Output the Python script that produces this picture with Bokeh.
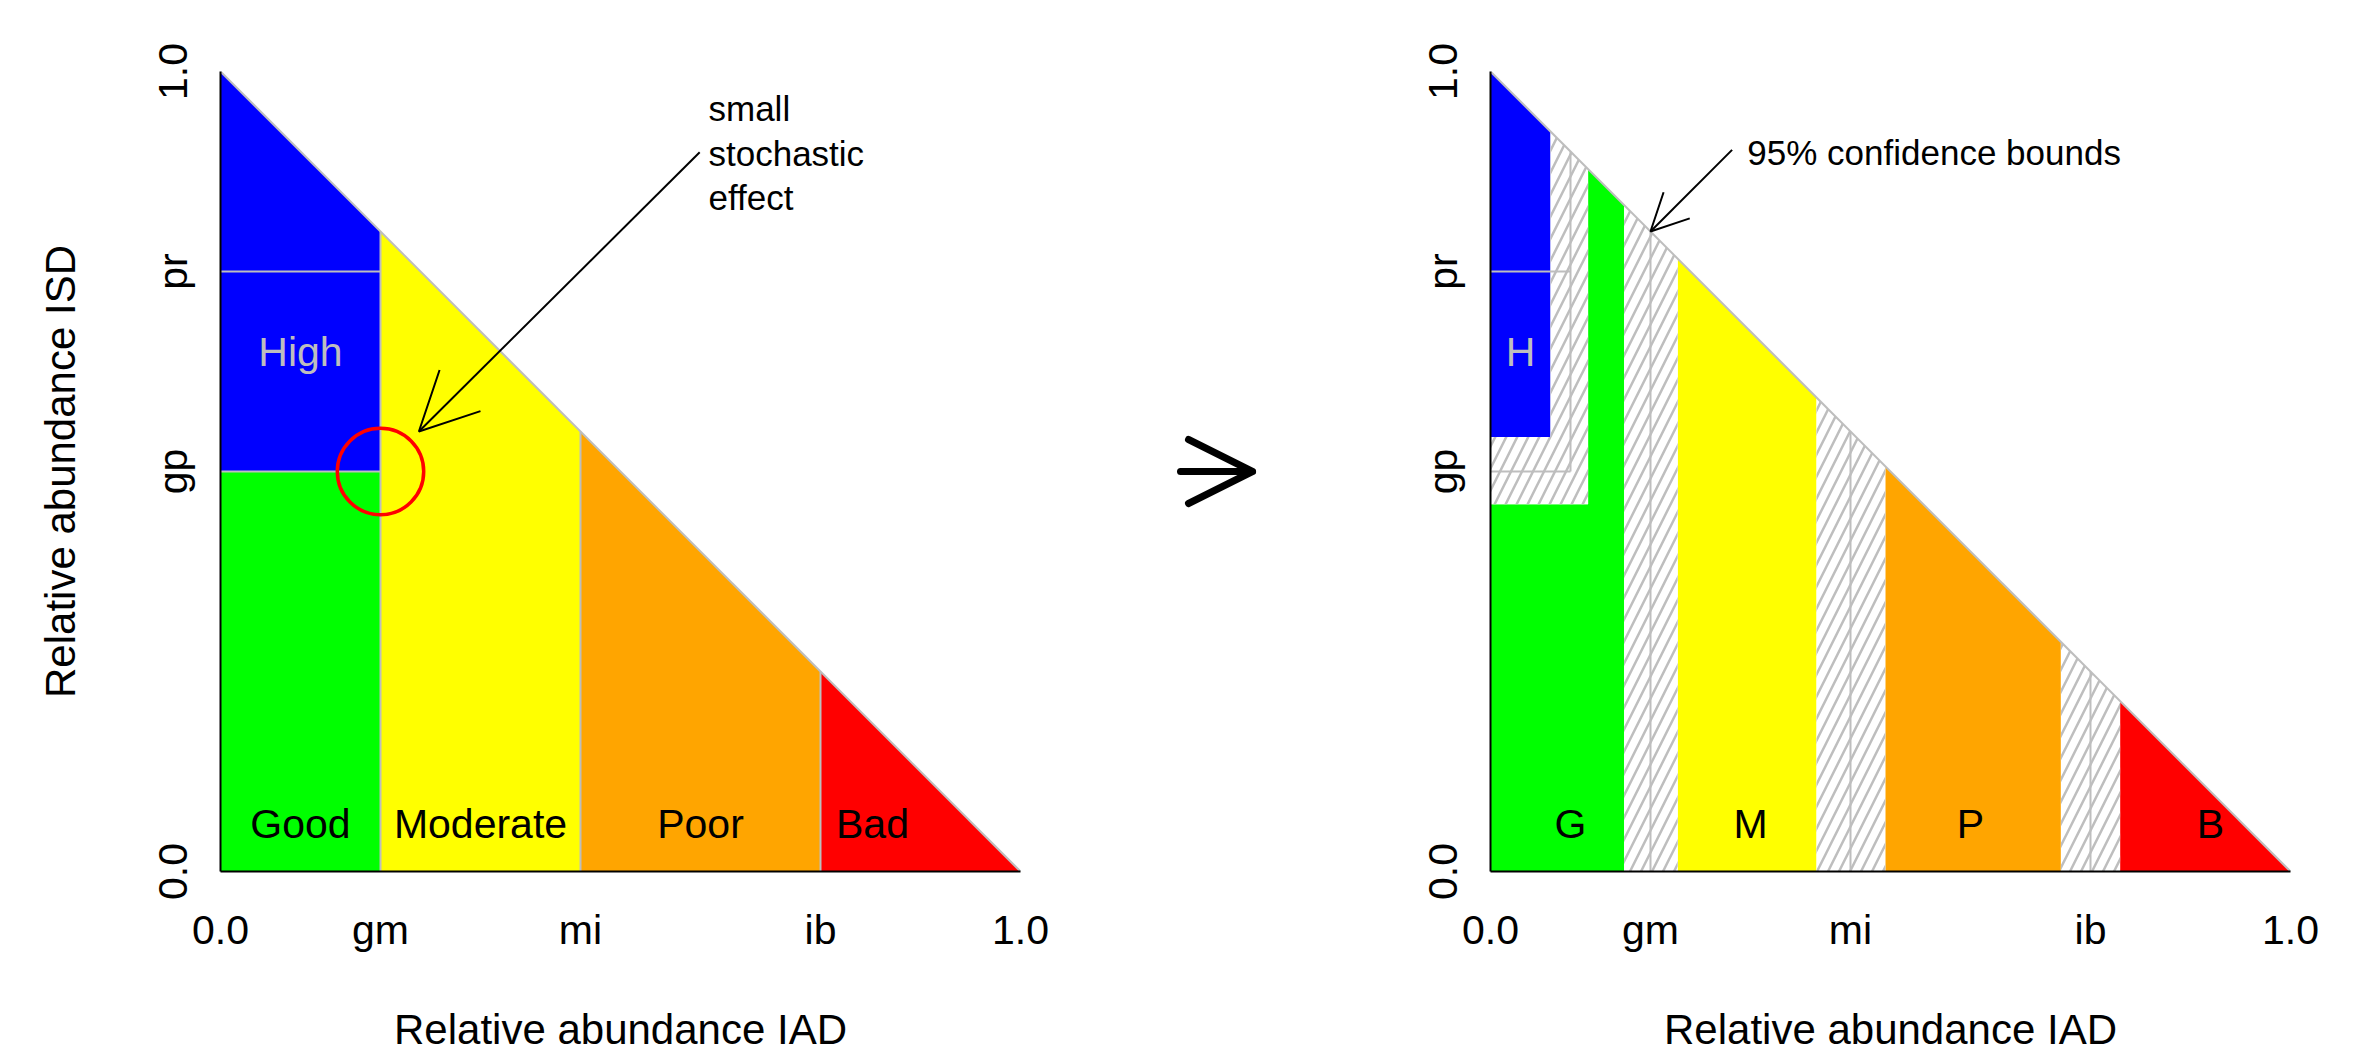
import math
from bokeh.plotting import figure
from bokeh.models import Range1d, FixedTicker, Arrow, OpenHead
from bokeh.layouts import row
from bokeh.embed import file_html
from bokeh.resources import INLINE
from bokeh.core.properties import value

FONT = "Liberation Sans"

# ---- class boundaries (relative abundance) ----
gm, mi, ib = 0.2, 0.45, 0.75     # IAD boundaries good/moderate, moderate/poor, poor/bad
gp, pr = 0.5, 0.75               # ISD boundaries good/high, reference line
x_ticks = [0.0, gm, mi, ib, 1.0]
x_tick_labels = ["0.0", "gm", "mi", "ib", "1.0"]
y_ticks = [0.0, gp, pr, 1.0]
y_tick_labels = ["0.0", "gp", "pr", "1.0"]

COL = {"H": "#0000FF", "G": "#00FF00", "M": "#FFFF00", "P": "#FFA500", "B": "#FF0000"}
GREY = "#BEBEBE"

# left panel class labels
left_labels = ["High", "Good", "Moderate", "Poor", "Bad"]
left_label_x = [0.1, 0.1, 0.325, 0.6, 0.815]
left_label_y = [0.65, 0.06, 0.06, 0.06, 0.06]
left_label_col = [GREY, "black", "black", "black", "black"]

# right panel: high boundary in IAD and 95% confidence bounds
hx = 0.1
hx_lo, hx_hi = 0.075, 0.122
gp_lo, gp_hi = 0.459, 0.543
gm_lo, gm_hi = 0.167, 0.234
mi_lo, mi_hi = 0.4075, 0.4935
ib_lo, ib_hi = 0.713, 0.787
right_labels = ["H", "G", "M", "P", "B"]
right_label_x = [0.0375, 0.1, 0.325, 0.6, 0.9]
right_label_y = [0.65, 0.06, 0.06, 0.06, 0.06]
right_label_col = [GREY, "black", "black", "black", "black"]

# annotations
note_left = "small\nstochastic\neffect"
note_left_xy = (0.61, 0.898)
arrow_left = (0.599, 0.899, 0.248, 0.55)
note_right = "95% confidence bounds"
note_right_xy = (0.321, 0.899)
arrow_right = (0.302, 0.902, 0.2, 0.8)
mid_arrow = (0.40, 0.5, 0.76, 0.5)
circle_r = 0.054


def diag(x):
    return 1.0 - x


def band(x0, x1):
    return [x0, x1, x1, x0], [0, 0, diag(x1), diag(x0)]


def make_panel(bl, br, ylabel):
    p = figure(frame_width=800, frame_height=800,
               x_range=Range1d(0, 1), y_range=Range1d(0, 1),
               min_border_left=bl, min_border_right=br,
               min_border_top=71, min_border_bottom=175,
               output_backend="svg", toolbar_location=None,
               background_fill_color="white", border_fill_color="white",
               outline_line_color=None)
    p.grid.visible = False
    for ax, ticks, labs in ((p.xaxis, x_ticks, x_tick_labels), (p.yaxis, y_ticks, y_tick_labels)):
        ax.ticker = FixedTicker(ticks=ticks)
        ax.major_label_overrides = {t: l for t, l in zip(ticks, labs)}
        ax.major_tick_in = 0
        ax.major_tick_out = 0
        ax.minor_tick_in = 0
        ax.minor_tick_out = 0
        ax.axis_line_color = "black"
        ax.axis_line_width = 2
        ax.major_label_text_font = FONT
        ax.major_label_text_font_size = "41px"
        ax.major_label_text_color = "black"
        ax.axis_label_text_font = FONT
        ax.axis_label_text_font_size = "42px"
        ax.axis_label_text_font_style = "normal"
        ax.axis_label_text_color = "black"
    p.xaxis.major_label_standoff = 35
    p.xaxis.axis_label = "Relative abundance IAD"
    p.xaxis.axis_label_standoff = 50
    p.yaxis.major_label_orientation = "vertical"
    p.yaxis.major_label_standoff = 25
    if ylabel:
        p.yaxis.axis_label = ylabel
        p.yaxis.axis_label_standoff = 63
    return p


# ---------------- left panel ----------------
pl = make_panel(220, 80, "Relative abundance ISD")
lxs = [[0, gm, gm, 0], [0, gm, gm, 0]]
lys = [[gp, gp, diag(gm), 1], [0, 0, gp, gp]]
for a, b in ((gm, mi), (mi, ib), (ib, 1.0)):
    bx, by = band(a, b)
    lxs.append(bx)
    lys.append(by)
pl.patches(lxs, lys, fill_color=[COL["H"], COL["G"], COL["M"], COL["P"], COL["B"]], line_color=None)
# grey class boundary lines
pl.multi_line([[gm, gm], [mi, mi], [ib, ib], [0, gm], [0, gm], [0, 1]],
              [[0, diag(gm)], [0, diag(mi)], [0, diag(ib)], [gp, gp], [pr, pr], [1, 0]],
              line_color=GREY, line_width=2)
pl.circle(x=[gm], y=[gp], radius=circle_r, fill_color=None, line_color="#FF0000", line_width=3.5)
pl.text(x=left_label_x, y=left_label_y, text=left_labels, text_color=left_label_col,
        text_font=value(FONT), text_font_size="41px", text_align="center", text_baseline="middle")
pl.text(x=[note_left_xy[0]], y=[note_left_xy[1]], text=[note_left], text_font=value(FONT),
        text_font_size="35px", text_align="left", text_baseline="middle", text_line_height=1.15)
pl.add_layout(Arrow(end=OpenHead(size=58, line_width=2, line_color="black"),
                    x_start=arrow_left[0], y_start=arrow_left[1],
                    x_end=arrow_left[2], y_end=arrow_left[3], line_width=2, line_color="black"))

# ---------------- middle arrow ----------------
pm = figure(frame_width=200, frame_height=800, x_range=Range1d(0, 1), y_range=Range1d(0, 1),
            min_border_left=0, min_border_right=0, min_border_top=71, min_border_bottom=175,
            output_backend="svg", toolbar_location=None, x_axis_location=None, y_axis_location=None,
            outline_line_color=None, background_fill_color="white", border_fill_color="white")
pm.grid.visible = False
pm.add_layout(Arrow(end=OpenHead(size=64, line_width=7, line_color="black", line_cap="round", line_join="round"),
                    x_start=mid_arrow[0], y_start=mid_arrow[1], x_end=mid_arrow[2], y_end=mid_arrow[3],
                    line_width=7, line_color="black", line_cap="round"))

# ---------------- right panel ----------------
pr_ = make_panel(190, 64, None)
rxs, rys, rcol = [], [], []
# High
rxs.append([0, hx_lo, hx_lo, 0]); rys.append([gp_hi, gp_hi, diag(hx_lo), 1]); rcol.append(COL["H"])
# Good
rxs.append([0, gm_lo, gm_lo, hx_hi, hx_hi, 0]); rys.append([0, 0, diag(gm_lo), diag(hx_hi), gp_lo, gp_lo]); rcol.append(COL["G"])
for (a, b), c in (((gm_hi, mi_lo), "M"), ((mi_hi, ib_lo), "P"), ((ib_hi, 1.0), "B")):
    bx, by = band(a, b)
    rxs.append(bx); rys.append(by); rcol.append(COL[c])
pr_.patches(rxs, rys, fill_color=rcol, line_color=None)
# uncertainty (hatched) zones
hxs = [[0, hx_hi, hx_hi, hx_lo, hx_lo, 0]]
hys = [[gp_lo, gp_lo, diag(hx_hi), diag(hx_lo), gp_hi, gp_hi]]
for a, b in ((gm_lo, gm_hi), (mi_lo, mi_hi), (ib_lo, ib_hi)):
    bx, by = band(a, b)
    hxs.append(bx); hys.append(by)
pr_.patches(hxs, hys, fill_color="white", line_color=None, hatch_pattern="/",
            hatch_color=GREY, hatch_weight=2.5, hatch_scale=22)
pr_.multi_line([[gm, gm], [mi, mi], [ib, ib], [hx, hx], [0, hx], [0, hx], [0, 1]],
               [[0, diag(gm)], [0, diag(mi)], [0, diag(ib)], [gp, diag(hx)], [gp, gp], [pr, pr], [1, 0]],
               line_color=GREY, line_width=2)
pr_.text(x=right_label_x, y=right_label_y, text=right_labels, text_color=right_label_col,
         text_font=value(FONT), text_font_size="41px", text_align="center", text_baseline="middle")
pr_.text(x=[note_right_xy[0]], y=[note_right_xy[1]], text=[note_right], text_font=value(FONT),
         text_font_size="35px", text_align="left", text_baseline="middle")
pr_.add_layout(Arrow(end=OpenHead(size=37, line_width=2, line_color="black"),
                     x_start=arrow_right[0], y_start=arrow_right[1],
                     x_end=arrow_right[2], y_end=arrow_right[3], line_width=2, line_color="black"))

layout = row(pl, pm, pr_)
open("out.html", "w").write(file_html(layout, INLINE))
